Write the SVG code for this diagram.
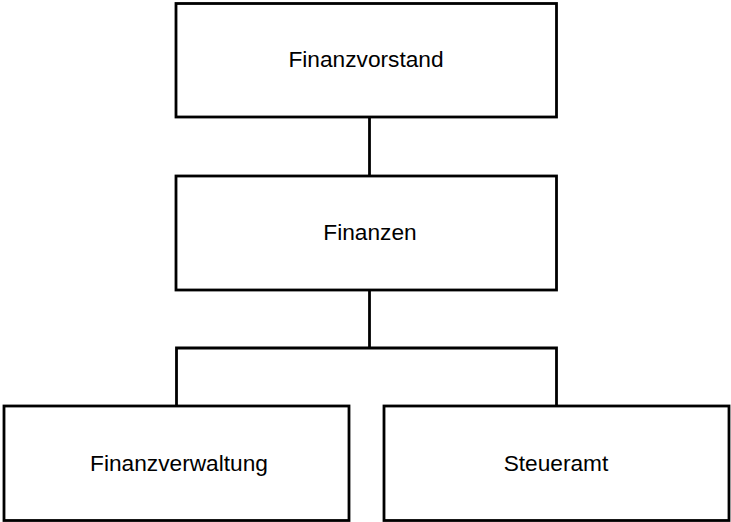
<svg xmlns="http://www.w3.org/2000/svg" width="731" height="522" viewBox="0 0 731 522">
<style>
.box{fill:#fff;stroke:#000;stroke-width:2.8}
.lbl{font-family:"Liberation Sans",Arial,sans-serif;font-size:22.7px;fill:#000;text-anchor:middle}
.con{fill:none;stroke:#000;stroke-width:2.8}
</style>
<rect width="731" height="522" fill="#fff"/>
<g id="connectors">
<path class="con" d="M369.5 117V176"/>
<path class="con" d="M369.5 290V348"/>
<path class="con" d="M176.5 406V348H556.5V406"/>
</g>
<g id="finanzvorstand">
<rect class="box" x="176" y="3.5" width="380.5" height="113.5"/>
<text class="lbl" x="366" y="67">Finanzvorstand</text>
</g>
<g id="finanzen">
<rect class="box" x="176" y="176" width="380.5" height="114"/>
<text class="lbl" x="370" y="240">Finanzen</text>
</g>
<g id="finanzverwaltung">
<rect class="box" x="4" y="406" width="345" height="114.5"/>
<text class="lbl" x="179" y="471">Finanzverwaltung</text>
</g>
<g id="steueramt">
<rect class="box" x="384" y="406" width="345" height="114.5"/>
<text class="lbl" x="556" y="471">Steueramt</text>
</g>
</svg>
